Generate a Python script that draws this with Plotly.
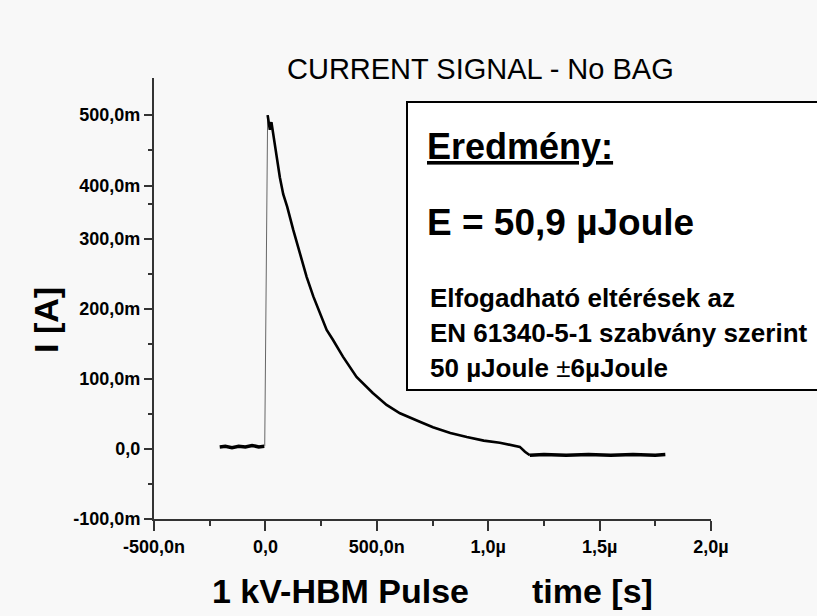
import plotly.graph_objects as go

# ---- data (time in ns, current in mA) ----
baseline_t = [-205, -180, -150, -120, -90, -60, -30, -5]
baseline_i = [3, 4, 2, 4, 3, 5, 3, 4]

rise_t = [-3, 10]
rise_i = [4, 477]

decay_t = [10, 14, 20, 27, 35, 50, 65, 80, 98, 125, 155, 185, 215, 245, 275, 303,
           348, 409, 482, 544, 604, 693, 752, 830, 904, 980, 1052, 1142, 1165, 1187]
decay_i = [477, 470, 456, 467, 451, 416, 388, 364, 346, 313, 280, 246, 218, 194, 170, 156,
           132, 103, 80, 63, 51, 39, 31, 23, 17, 12, 9, 3, -4, -9]

tail_t = [1187, 1250, 1350, 1450, 1550, 1650, 1750, 1795]
tail_i = [-9, -8, -9, -8, -9, -8, -9, -8]

x_tick_vals = [-500, 0, 500, 1000, 1500, 2000]
x_tick_text = ["-500,0n", "0,0", "500,0n", "1,0\u00b5", "1,5\u00b5", "2,0\u00b5"]
x_minor_vals = [-250, 250, 750, 1250, 1750]

y_tick_vals = [-100, 0, 100, 200, 300, 375.7, 477]
y_tick_text = ["-100,0m", "0,0", "100,0m", "200,0m", "300,0m", "400,0m", "500,0m"]
y_minor_vals = [-50, 50, 150, 250, 350, 427]

FONT = "Liberation Sans, Arial, sans-serif"
BG = "#f8f8f8"

# plot area in pixels
L, R, T, B = 154, 711, 78, 519
W, H = 817, 616


def px(xp):
    return (xp - L) / (R - L)


def py(yp):
    return (B - yp) / (B - T)


fig = go.Figure()
fig.add_trace(go.Scatter(x=baseline_t, y=baseline_i, mode="lines",
                         line=dict(color="#000", width=3.5), showlegend=False))
fig.add_trace(go.Scatter(x=rise_t, y=rise_i, mode="lines",
                         line=dict(color="#666", width=1), showlegend=False))
fig.add_trace(go.Scatter(x=decay_t, y=decay_i, mode="lines",
                         line=dict(color="#000", width=2.6), showlegend=False))
fig.add_trace(go.Scatter(x=tail_t, y=tail_i, mode="lines",
                         line=dict(color="#000", width=3.5), showlegend=False))

axis_common = dict(
    showline=True, linecolor="#333", linewidth=2, showgrid=False, zeroline=False,
    ticks="outside", tickcolor="#333", tickwidth=1.5,
    tickfont=dict(family=FONT, size=18, color="#000", weight="bold"),
    tickmode="array",
)

fig.update_layout(
    width=W, height=H,
    margin=dict(l=L, r=W - R, t=T, b=H - B, pad=0),
    paper_bgcolor=BG, plot_bgcolor=BG,
    xaxis=dict(range=[-500, 2000], tickvals=x_tick_vals, ticktext=x_tick_text, ticklen=10,
               minor=dict(tickvals=x_minor_vals, ticks="outside", ticklen=5, tickwidth=1.5,
                          tickcolor="#333", showgrid=False),
               **axis_common),
    yaxis=dict(range=[-100, 530], tickvals=y_tick_vals, ticktext=y_tick_text, ticklen=8,
               minor=dict(tickvals=y_minor_vals, ticks="outside", ticklen=4, tickwidth=1.5,
                          tickcolor="#333", showgrid=False),
               **axis_common),
    showlegend=False,
)

# result box
fig.add_shape(type="rect", xref="paper", yref="paper",
              x0=px(407), x1=px(840), y0=py(390), y1=py(102),
              line=dict(color="#000", width=2), fillcolor="#ffffff", layer="above")

ann = []
ann.append(dict(text="CURRENT SIGNAL - No BAG", x=px(480), y=py(69),
                font=dict(family=FONT, size=29, color="#000")))
ann.append(dict(text="<u>Eredm\u00e9ny:</u>", x=px(425), y=py(147), xanchor="left",
                font=dict(family=FONT, size=36, color="#000", weight="bold")))
ann.append(dict(text="E = 50,9 \u00b5Joule", x=px(425), y=py(223), xanchor="left",
                font=dict(family=FONT, size=37, color="#000", weight="bold")))
ann.append(dict(text="Elfogadhat\u00f3 elt\u00e9r\u00e9sek az", x=px(428), y=py(298), xanchor="left",
                font=dict(family=FONT, size=26, color="#000", weight="bold")))
ann.append(dict(text="EN 61340-5-1 szabv\u00e1ny szerint", x=px(428), y=py(333), xanchor="left",
                font=dict(family=FONT, size=26, color="#000", weight="bold")))
ann.append(dict(text="50 \u00b5Joule <span style='font-weight:normal'>\u00b1</span>6\u00b5Joule",
                x=px(428), y=py(368), xanchor="left",
                font=dict(family=FONT, size=26, color="#000", weight="bold")))
ann.append(dict(text="I [A]", x=px(46), y=py(320), textangle=-90,
                font=dict(family=FONT, size=34, color="#000", weight="bold")))
ann.append(dict(text="1 kV-HBM Pulse", x=px(340), y=py(591),
                font=dict(family=FONT, size=34, color="#000", weight="bold")))
ann.append(dict(text="time [s]", x=px(592), y=py(591),
                font=dict(family=FONT, size=34, color="#000", weight="bold")))

for a in ann:
    a.setdefault("xanchor", "center")
    a.update(xref="paper", yref="paper", yanchor="middle", showarrow=False)
    fig.add_annotation(**a)

fig.write_html("out.html", config={"displayModeBar": False},
               post_script="document.body.style.margin='0';document.body.style.overflow='hidden';")
